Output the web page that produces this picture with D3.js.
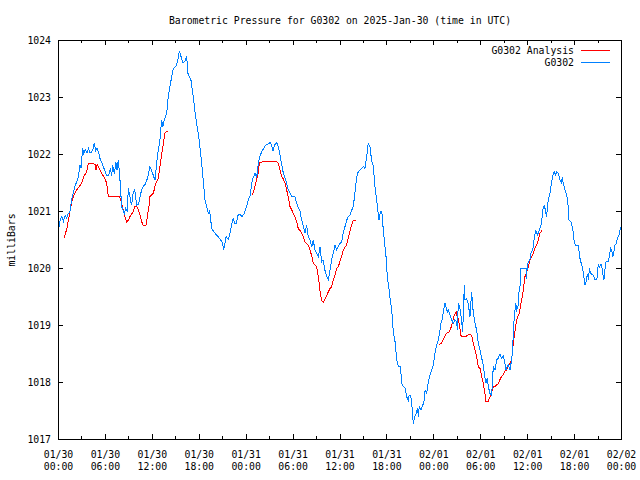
<!DOCTYPE html>
<html><head><meta charset="utf-8">
<script src="https://cdn.jsdelivr.net/npm/d3@7"></script>
<style>
body{margin:0;background:#fff;}
text{font-family:"DejaVu Sans Mono","Liberation Mono",monospace;font-size:9.8px;fill:#000;}
</style></head>
<body><svg id="c" width="640" height="480"></svg>
<script>
// ---- data (hours after 2025-01-30 00:00 UTC) ----
const title = "Barometric Pressure for G0302 on 2025-Jan-30 (time in UTC)";
const yLabel = "milliBars";
const seriesNames = ["G0302 Analysis", "G0302"];
const yTicks = [1017, 1018, 1019, 1020, 1021, 1022, 1023, 1024];
const xTickHours = [0, 6, 12, 18, 24, 30, 36, 42, 48, 54, 60, 66, 72];
const xMinorHours = [3, 9, 15, 21, 27, 33, 39, 45, 51, 57, 63, 69];

const obsHours = [0.0,0.13,0.3,0.47,0.7,0.9,1.1,1.3,1.53,1.75,1.96,2.2,2.39,2.6,2.81,2.95,3.15,3.3,3.5,3.7,3.9,4.1,4.3,4.5,4.65,4.8,5.0,5.2,5.37,5.6,5.8,6.0,6.22,6.5,6.7,6.85,7.0,7.2,7.4,7.55,7.71,7.9,8.14,8.3,8.5,8.65,8.86,8.99,9.2,9.4,9.6,9.8,10.06,10.3,10.5,10.7,10.91,11.2,11.5,11.76,12.0,12.2,12.4,12.7,13.04,13.25,13.4,13.6,13.9,14.1,14.3,14.75,15.1,15.3,15.51,15.8,16.0,16.2,16.46,16.6,17.0,17.3,17.6,18.0,18.37,18.8,19.22,19.4,19.65,20.0,20.5,21.0,21.2,21.5,21.8,22.0,
22.2,22.4,22.6,22.8,23.0,23.27,23.5,23.8,24.13,24.4,24.6,24.77,25.0,25.2,25.4,25.62,25.8,26.05,26.3,26.6,26.9,27.11,27.3,27.5,27.7,27.96,28.2,28.47,28.82,29.1,29.45,29.9,30.31,30.5,30.73,30.95,31.16,31.35,31.59,31.8,32.0,32.23,32.45,32.65,32.85,33.08,33.3,33.5,33.72,33.9,34.14,34.36,34.57,34.78,34.99,35.2,35.42,35.63,35.84,36.05,36.27,36.48,36.69,36.92,37.12,37.33,37.76,37.97,38.19,38.4,38.61,38.83,39.04,39.25,39.47,39.68,39.9,
40.1,40.3,40.54,40.75,41.05,41.25,41.4,41.5,41.6,41.8,41.95,42.11,42.3,42.46,42.7,42.88,43.1,43.2,43.39,43.55,43.8,43.95,44.15,44.4,44.59,44.8,44.9,45.1,45.23,45.35,45.44,45.6,45.8,46.0,46.08,46.2,46.4,46.6,46.8,46.95,47.15,47.36,47.6,47.78,48.0,48.2,48.42,48.65,48.85,49.0,49.15,49.27,49.49,49.6,49.8,49.9,50.13,50.35,50.55,50.75,50.98,51.08,51.19,51.4,51.6,51.75,51.96,52.05,52.25,52.45,52.69,52.9,53.11,53.33,53.54,53.75,53.97,54.18,54.39,54.6,54.73,54.9,55.03,55.24,55.46,55.67,55.88,56.1,56.31,56.52,56.73,56.95,57.16,57.29,57.45,57.6,57.8,58.01,58.15,58.23,58.36,58.53,58.66,58.87,58.99,
59.08,59.21,59.4,59.6,59.85,59.9,60.0,60.14,60.35,60.49,60.7,60.8,60.91,61.09,61.3,61.5,61.64,61.84,61.98,62.2,62.35,62.5,62.6,62.7,62.92,63.13,63.35,63.47,63.65,63.8,63.98,64.1,64.19,64.4,64.5,64.6,64.83,65.05,65.18,65.35,65.6,65.82,65.98,66.15,66.53,66.75,66.97,67.1,67.25,67.39,67.55,67.7,67.85,67.94,68.15,68.4,68.6,68.67,68.9,68.99,69.09,69.25,69.45,69.6,69.7,69.82,70.0,70.08,70.4,70.5,70.67,70.8,70.95,71.1,71.23,71.4,71.55,71.74,71.87,72.0];
const obsPressure = [1020.70,1020.72,1020.85,1020.90,1020.82,1020.92,1020.88,1020.95,1020.99,1021.20,1021.32,1021.45,1021.51,1021.60,1021.81,1021.75,1022.10,1022.00,1022.08,1022.02,1022.10,1022.02,1022.03,1022.10,1022.20,1022.05,1022.10,1022.02,1021.92,1021.85,1021.78,1021.70,1021.63,1021.63,1021.75,1021.62,1021.80,1021.65,1021.85,1021.72,1021.90,1021.60,1021.08,1021.02,1020.95,1021.05,1020.99,1021.40,1021.25,1021.10,1021.30,1021.38,1021.10,1021.12,1021.25,1021.38,1021.43,1021.48,1021.60,1021.78,1021.70,1021.62,1021.54,1021.95,1022.25,1022.60,1022.48,1022.60,1022.71,1023.01,1023.18,1023.50,1023.55,1023.62,1023.81,1023.68,1023.60,1023.62,1023.71,1023.42,1023.30,1023.00,1022.65,1022.30,1021.84,1021.19,1020.96,1021.00,1020.70,1020.62,1020.55,1020.45,1020.32,1020.55,1020.50,1020.61,
1020.75,1020.87,1020.78,1020.78,1020.92,1020.95,1020.90,1020.95,1021.08,1021.22,1021.28,1021.49,1021.60,1021.66,1021.58,1021.84,1021.95,1022.04,1022.10,1022.16,1022.18,1022.20,1022.16,1022.05,1022.16,1022.20,1022.12,1021.92,1021.66,1021.55,1021.37,1021.25,1021.25,1021.15,1021.05,1021.00,1020.84,1020.75,1020.61,1020.75,1020.55,1020.49,1020.37,1020.49,1020.32,1020.26,1020.20,1020.37,1020.11,1020.14,1019.96,1019.85,1019.79,1019.96,1020.14,1020.26,1020.40,1020.32,1020.37,1020.43,1020.46,1020.61,1020.72,1020.84,1020.90,1020.93,1021.08,1021.31,1021.60,1021.69,1021.72,1021.75,1021.78,1021.75,1021.95,1022.19,1022.13,
1021.89,1021.80,1021.43,1021.19,1020.84,1021.00,1021.00,1020.84,1020.67,1020.40,1020.20,1019.85,1019.67,1019.47,1019.23,1018.88,1018.71,1018.56,1018.33,1018.27,1018.27,1017.98,1017.92,1017.89,1017.74,1017.68,1017.77,1017.77,1017.63,1017.42,1017.27,1017.39,1017.45,1017.54,1017.39,1017.57,1017.51,1017.57,1017.66,1017.86,1017.80,1018.01,1018.13,1018.21,1018.30,1018.50,1018.65,1018.74,1018.91,1019.06,1019.09,1019.23,1019.38,1019.32,1019.21,1019.27,1019.18,1019.09,1019.03,1019.09,1019.06,1018.91,1019.38,1019.30,1019.09,1018.88,1019.70,1019.44,1019.47,1019.38,1019.15,1019.58,1019.21,1019.03,1018.91,1018.68,1018.56,1018.42,1018.30,1018.07,1017.98,1018.07,1017.92,1017.80,1017.77,1018.27,1018.21,1018.39,1018.42,1018.49,1018.42,1018.45,1018.33,1018.21,1018.27,1018.30,1018.21,1018.39,1018.56,1018.91,1019.15,1019.38,1019.27,1019.35,1019.67,
1019.67,1019.99,1019.99,1019.99,1020.00,1019.80,1020.00,1020.11,1020.14,1020.26,1020.32,1020.40,1020.52,1020.67,1020.58,1020.64,1020.70,1020.78,1021.02,1021.11,1020.99,1020.90,1021.11,1021.19,1021.31,1021.51,1021.66,1021.69,1021.63,1021.69,1021.66,1021.60,1021.55,1021.49,1021.60,1021.49,1021.37,1021.28,1021.19,1020.84,1020.81,1020.70,1020.49,1020.40,1020.40,1020.17,1020.05,1019.99,1019.85,1019.70,1019.76,1019.90,1019.79,1019.99,1019.90,1019.88,1019.82,1019.79,1019.79,1019.90,1020.07,1020.02,1020.07,1019.99,1019.88,1019.79,1020.05,1020.11,1020.11,1020.20,1020.35,1020.32,1020.20,1020.29,1020.40,1020.43,1020.52,1020.58,1020.67,1020.72];

// analysis: null marks a gap between runs
const anaHours = [0.77,1.15,1.53,1.75,1.96,2.39,2.73,3.03,3.33,3.66,3.88,4.3,4.73,4.85,5.0,5.37,5.58,6.0,6.22,6.44,6.9,7.9,8.14,8.35,8.56,8.78,8.99,9.2,9.63,9.84,10.06,10.27,10.48,10.7,10.91,11.25,11.42,11.63,11.76,12.19,12.4,12.6,12.83,13.04,13.25,13.47,13.68,13.98,
14.5,
24.85,25.06,25.4,25.6,25.75,26.05,27.96,28.18,28.39,28.6,28.82,29.03,29.24,29.45,29.67,29.88,30.09,30.3,30.52,30.73,30.94,31.16,31.37,31.59,31.8,32.01,32.23,32.44,32.65,32.86,33.08,33.29,33.5,33.72,33.93,34.14,34.36,34.57,34.78,34.99,35.2,35.42,35.63,35.84,36.05,36.27,36.48,36.69,36.9,37.12,37.33,37.54,37.76,38.06,
38.5,
48.72,48.99,49.2,49.42,49.63,49.84,50.06,50.27,50.48,50.7,50.91,51.08,51.19,51.4,51.53,51.75,51.96,52.17,52.39,52.69,52.9,53.11,53.33,53.54,53.75,53.97,54.18,54.39,54.6,54.73,55.03,55.24,55.46,55.67,55.88,56.1,56.31,56.52,56.73,56.95,57.16,57.38,57.59,57.8,58.01,58.23,58.36,58.53,58.66,58.87,58.99,59.29,59.5,59.72,59.93,60.14,60.35,60.56,60.78,60.99,61.2,61.42,61.63,61.84,61.93];
const anaPressure = [1020.52,1020.70,1020.99,1021.16,1021.25,1021.37,1021.43,1021.49,1021.61,1021.69,1021.84,1021.84,1021.82,1021.72,1021.82,1021.72,1021.66,1021.57,1021.49,1021.25,1021.25,1021.25,1021.13,1021.02,1020.90,1020.81,1020.84,1020.90,1020.99,1021.08,1021.08,1021.02,1020.93,1020.81,1020.75,1020.75,1020.90,1021.08,1021.25,1021.31,1021.43,1021.51,1021.58,1021.78,1021.98,1022.18,1022.37,1022.40,
null,
1021.28,1021.37,1021.55,1021.66,1021.84,1021.86,1021.86,1021.84,1021.72,1021.61,1021.56,1021.49,1021.37,1021.25,1021.08,1021.02,1020.96,1020.90,1020.81,1020.69,1020.66,1020.61,1020.55,1020.46,1020.43,1020.40,1020.31,1020.22,1020.08,1020.05,1020.02,1019.85,1019.61,1019.43,1019.40,1019.46,1019.52,1019.58,1019.64,1019.67,1019.79,1019.88,1019.99,1020.02,1020.11,1020.20,1020.31,1020.37,1020.40,1020.52,1020.64,1020.75,1020.84,1020.84,
null,
1018.66,1018.67,1018.73,1018.79,1018.85,1018.87,1018.88,1018.96,1019.06,1019.18,1019.23,1019.12,1019.12,1018.94,1018.82,1018.79,1018.79,1018.80,1018.82,1018.84,1018.82,1018.68,1018.56,1018.45,1018.27,1018.24,1018.10,1017.98,1017.80,1017.66,1017.66,1017.74,1017.83,1017.92,1017.92,1017.95,1017.97,1018.04,1018.10,1018.13,1018.19,1018.21,1018.27,1018.33,1018.39,1018.68,1018.82,1018.97,1019.09,1019.18,1019.20,1019.44,1019.61,1019.85,1019.93,1020.02,1020.14,1020.20,1020.26,1020.34,1020.40,1020.49,1020.61,1020.65,1020.65];

const colors = ["#ff0000", "#0080ff"];

// ---- chart ----
const startMs = Date.UTC(2025, 0, 30);
const toDate = h => new Date(startMs + h * 3600000);
const L = 58, R = 621, T = 40, B = 439;

const svg = d3.select("#c");
const x = d3.scaleUtc().domain([toDate(0), toDate(72)]).range([L, R]);
const y = d3.scaleLinear().domain([1017, 1024]).range([B, T]);

const obs = obsHours.map((h, i) => ({t: toDate(h), v: obsPressure[i]}));
const ana = anaHours.map((h, i) => ({t: toDate(h), v: anaPressure[i]}));

const line = d3.line().defined(d => d.v != null).x(d => x(d.t)).y(d => y(d.v)).curve(d3.curveLinear);

function styleAxis(g) {
  g.select(".domain").remove();
  g.selectAll("line").attr("stroke", "#000").attr("shape-rendering", "crispEdges");
  g.selectAll("text").attr("font-family", null).attr("font-size", null).attr("fill", "#000");
}

// minor x ticks
svg.append("g").attr("transform", `translate(0,${B})`)
  .call(d3.axisBottom(x).tickValues(xMinorHours.map(toDate)).tickSize(-3).tickFormat(""))
  .call(styleAxis);
svg.append("g").attr("transform", `translate(0,${T})`)
  .call(d3.axisTop(x).tickValues(xMinorHours.map(toDate)).tickSize(-3).tickFormat(""))
  .call(styleAxis);
// major x ticks
const fmtD = d3.utcFormat("%m/%d"), fmtT = d3.utcFormat("%H:%M");
const xb = svg.append("g").attr("transform", `translate(0,${B})`)
  .call(d3.axisBottom(x).tickValues(xTickHours.map(toDate)).tickSize(-5).tickPadding(0).tickFormat(""))
  .call(styleAxis);
xb.selectAll(".tick").each(function(d) {
  const t = d3.select(this).append("text").attr("text-anchor", "middle");
  t.append("tspan").attr("x", 0).attr("y", 19).text(fmtD(d));
  t.append("tspan").attr("x", 0).attr("y", 31).text(fmtT(d));
});
svg.append("g").attr("transform", `translate(0,${T})`)
  .call(d3.axisTop(x).tickValues(xTickHours.map(toDate)).tickSize(-5).tickFormat(""))
  .call(styleAxis);

// y ticks
svg.append("g").attr("transform", `translate(${L},0)`)
  .call(d3.axisLeft(y).tickValues(yTicks).tickSize(-5).tickPadding(7).tickFormat(d3.format("d")))
  .call(styleAxis)
  .selectAll("text").attr("dy", "0.35em");
svg.append("g").attr("transform", `translate(${R},0)`)
  .call(d3.axisRight(y).tickValues(yTicks).tickSize(-5).tickFormat(""))
  .call(styleAxis);

// series: analysis first, observations on top
svg.append("path").datum(ana).attr("d", line)
  .attr("fill", "none").attr("stroke", colors[0]).attr("stroke-width", 1)
  .attr("shape-rendering", "crispEdges");
svg.append("path").datum(obs).attr("d", line)
  .attr("fill", "none").attr("stroke", colors[1]).attr("stroke-width", 1)
  .attr("shape-rendering", "crispEdges");

// frame
svg.append("rect").attr("x", L + 0.5).attr("y", T + 0.5).attr("width", R - L).attr("height", B - T)
  .attr("fill", "none").attr("stroke", "#000").attr("shape-rendering", "crispEdges");

// title & labels
svg.append("text").attr("x", 340).attr("y", 24).attr("text-anchor", "middle").text(title);
svg.append("text").attr("transform", "translate(15,240) rotate(-90)").attr("text-anchor", "middle").text(yLabel);

// legend
seriesNames.forEach((n, i) => {
  const yy = 50 + i * 12;
  svg.append("text").attr("x", 574).attr("y", yy + 4).attr("text-anchor", "end").text(n);
  svg.append("line").attr("x1", 581).attr("x2", 610).attr("y1", yy + 0.5).attr("y2", yy + 0.5)
    .attr("stroke", colors[i]).attr("stroke-width", 1).attr("shape-rendering", "crispEdges");
});
</script></body></html>
